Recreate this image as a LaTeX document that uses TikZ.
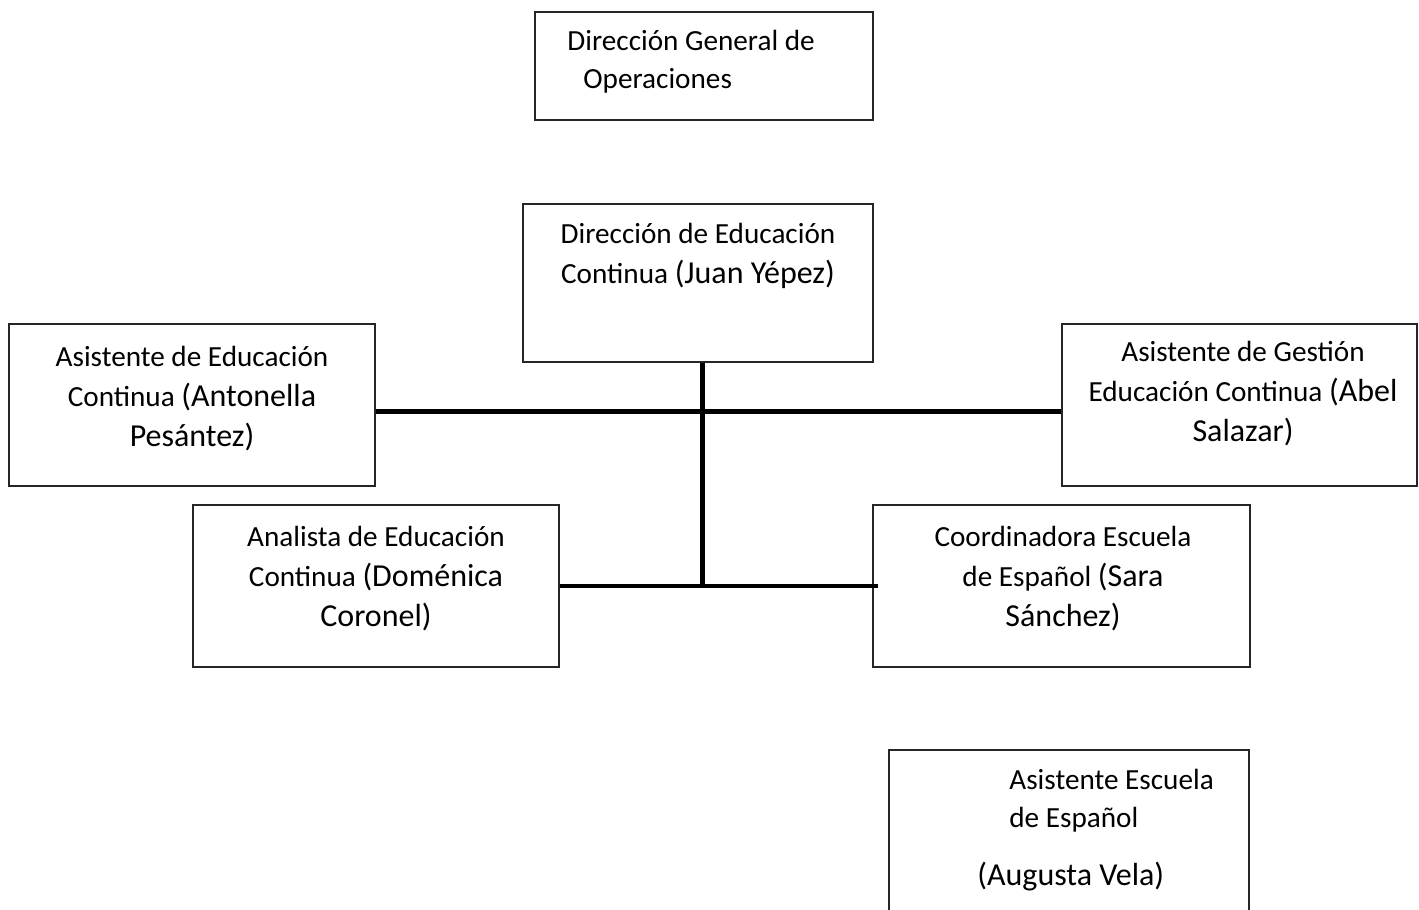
\documentclass[tikz,border=0pt]{standalone}
\usepackage{fontspec}
\setmainfont{Carlito}
\usetikzlibrary{positioning}

\newcommand{\nm}[1]{{\fontsize{16}{20}\selectfont #1}}

\tikzset{
  orgbox/.style={draw=black!85, line width=0.6pt, inner sep=0pt},
  orgtext/.style={align=center, inner sep=0pt, font=\fontsize{14.6}{20}\selectfont},
  link/.style={line width=2.5pt},
}

\begin{document}
\begin{tikzpicture}[x=0.5pt, y=-0.5pt]
\clip (0,0) rectangle (1419,910);
% boxes
\node[orgbox, minimum width=169pt, minimum height=54pt] (dgo) at (704,66) {};
\node[orgbox, minimum width=175pt, minimum height=79pt] (dec) at (698,283) {};
\node[orgbox, minimum width=183pt, minimum height=81pt] (aec) at (192,405) {};
\node[orgbox, minimum width=177.5pt, minimum height=81pt] (age) at (1239.5,405) {};
\node[orgbox, minimum width=183pt, minimum height=81pt] (ana) at (376,586) {};
\node[orgbox, minimum width=188.5pt, minimum height=81pt] (ces) at (1061.5,586) {};
\node[orgbox, minimum width=180pt, minimum height=90pt] (aee) at (1069,840) {};

% texts
\node[orgtext, align=left, anchor=north west, font=\fontsize{14.6}{19}\selectfont] (dgoT) at (567,30) {Dirección General de\\\hspace*{8pt}Operaciones};
\node[orgtext, anchor=north] (decT) at (698,223) {Dirección de Educación\\Continua \nm{(Juan Yépez)}};
\node[orgtext, anchor=north] (aecT) at (192,346) {Asistente de Educación\\Continua \nm{(Antonella}\\\nm{Pesántez)}};
\node[orgtext, anchor=north] (ageT) at (1243,341) {Asistente de Gestión\\Educación Continua \nm{(Abel}\\\nm{Salazar)}};
\node[orgtext, anchor=north] (anaT) at (376,526) {Analista de Educación\\Continua \nm{(Doménica}\\\nm{Coronel)}};
\node[orgtext, anchor=north] (cesT) at (1063,526) {Coordinadora Escuela\\de Español \nm{(Sara}\\\nm{Sánchez)}};
\node[orgtext, align=left, anchor=north west, font=\fontsize{14.6}{19}\selectfont] (aeeT) at (977,769) {\hspace*{16pt}Asistente Escuela\\\hspace*{16pt}de Español\\[10pt]\nm{(Augusta Vela)}};

% connectors
\coordinate (trunk) at ([xshift=2pt]dec.south);
\draw[link] ([yshift=-3pt]aec.east) -- ([yshift=-3pt]age.west);
\draw[link] (trunk) -- (trunk |- ana.east);
\draw[link, line width=2pt] (ana.east) -- ([xshift=3pt]ces.west);
\end{tikzpicture}
\end{document}
